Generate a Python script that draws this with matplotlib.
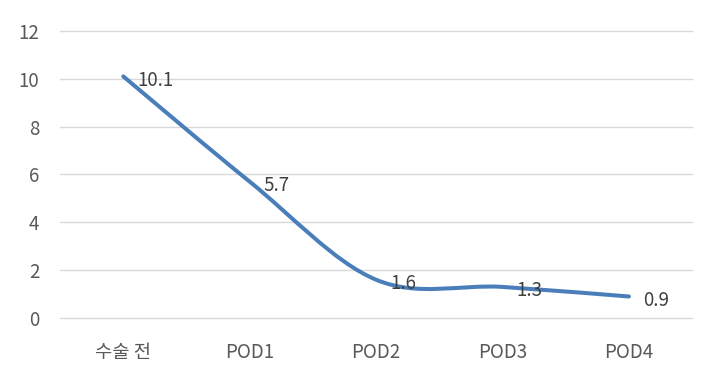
import numpy as np
import matplotlib
matplotlib.use("Agg")
import matplotlib.pyplot as plt
from matplotlib.path import Path
from matplotlib.patches import PathPatch

plt.rcParams['font.family'] = ['Noto Sans CJK KR', 'DejaVu Sans']

categories = ["수술 전", "POD1", "POD2", "POD3", "POD4"]
values = [10.1, 5.7, 1.6, 1.3, 0.9]
labels = ["10.1", "5.7", "1.6", "1.3", "0.9"]
yticks = [0, 2, 4, 6, 8, 10, 12]

fig = plt.figure(figsize=(7.24, 3.82), dpi=100)
ax = fig.add_axes([0.083, 0.1675, 0.873, 0.7515])

x = np.arange(len(values))
y = np.array(values, dtype=float)

# Excel-like smoothed line (cubic Bezier through points)
verts = [(x[0], y[0])]
codes = [Path.MOVETO]
n = len(x)
t = 1 / 6
for i in range(n - 1):
    p0 = np.array([x[max(i - 1, 0)], y[max(i - 1, 0)]])
    p1 = np.array([x[i], y[i]])
    p2 = np.array([x[i + 1], y[i + 1]])
    p3 = np.array([x[min(i + 2, n - 1)], y[min(i + 2, n - 1)]])
    c1 = p1 + (p2 - p0) * t
    c2 = p2 - (p3 - p1) * t
    verts += [tuple(c1), tuple(c2), tuple(p2)]
    codes += [Path.CURVE4] * 3
patch = PathPatch(Path(verts, codes), facecolor='none', edgecolor='#4a7ebb',
                  lw=2.9, capstyle='round', joinstyle='round', zorder=3)
ax.add_patch(patch)

for xi, yi, lab in zip(x, y, labels):
    ax.annotate(lab, (xi, yi), xytext=(10, -1), textcoords='offset points',
                ha='left', va='center_baseline', fontsize=13.5, color='#404040', zorder=4)

ax.set_xlim(-0.5, n - 0.5)
ax.set_ylim(0, 12)
ax.set_yticks(yticks)
ax.set_xticks(x)
ax.set_xticklabels(categories)
ax.yaxis.grid(True, color='#d9d9d9', lw=1)
for gl in ax.get_ygridlines():
    gl.set_clip_on(False)
ax.set_axisbelow(True)
for s in ax.spines.values():
    s.set_visible(False)
ax.tick_params(axis='both', length=0, labelsize=13.5, colors='#595959')
ax.tick_params(axis='y', pad=15)
ax.tick_params(axis='x', pad=17)

fig.savefig("out.png", dpi=100)
